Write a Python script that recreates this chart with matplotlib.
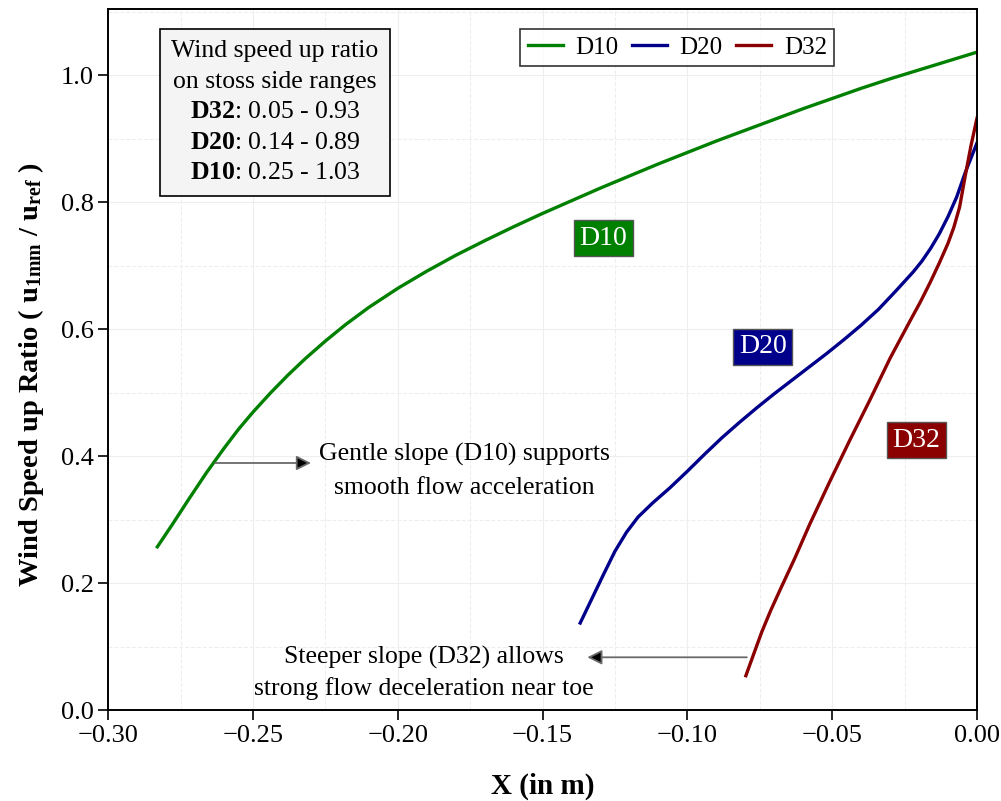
import matplotlib
matplotlib.use("Agg")
import matplotlib.pyplot as plt
from matplotlib.ticker import MultipleLocator

plt.rcParams['font.family'] = ['Liberation Serif', 'DejaVu Serif']
plt.rcParams['mathtext.fontset'] = 'custom'
plt.rcParams['mathtext.rm'] = 'Liberation Serif'
plt.rcParams['mathtext.it'] = 'Liberation Serif:italic'
plt.rcParams['mathtext.bf'] = 'Liberation Serif:bold'

# D10 (gentle slope)
x_d10 = [-0.283, -0.278, -0.272, -0.266, -0.260, -0.255, -0.250, -0.244, -0.238,
         -0.232, -0.225, -0.218, -0.210, -0.200, -0.190, -0.180, -0.170, -0.160,
         -0.150, -0.140, -0.130, -0.120, -0.110, -0.100, -0.090, -0.080, -0.070,
         -0.060, -0.050, -0.040, -0.030, -0.020, -0.010, 0.000]
y_d10 = [0.257, 0.291, 0.333, 0.374, 0.412, 0.442, 0.469, 0.499, 0.527,
         0.553, 0.581, 0.607, 0.634, 0.664, 0.691, 0.716, 0.739, 0.761,
         0.782, 0.802, 0.822, 0.841, 0.860, 0.878, 0.896, 0.913, 0.930,
         0.947, 0.963, 0.979, 0.994, 1.008, 1.022, 1.036]

# D20
x_d20 = [-0.137, -0.133, -0.129, -0.125, -0.121, -0.117, -0.112, -0.106, -0.100,
         -0.094, -0.088, -0.082, -0.076, -0.070, -0.064, -0.058, -0.052, -0.046,
         -0.040, -0.034, -0.028, -0.022, -0.019, -0.016, -0.013, -0.010, -0.007,
         -0.004, 0.000]
y_d20 = [0.137, 0.175, 0.213, 0.250, 0.280, 0.304, 0.326, 0.350, 0.376,
         0.403, 0.429, 0.453, 0.476, 0.498, 0.519, 0.540, 0.561, 0.583,
         0.606, 0.631, 0.660, 0.690, 0.707, 0.727, 0.750, 0.777, 0.808,
         0.847, 0.893]

# D32 (steep slope)
x_d32 = [-0.0798, -0.0771, -0.0743, -0.0712, -0.0677, -0.0629, -0.0577, -0.0508,
         -0.0439, -0.0370, -0.0300, -0.0232, -0.0195, -0.0162, -0.0130, -0.0100,
         -0.0080, -0.0060, -0.0041, -0.0021, 0.0]
y_d32 = [0.054, 0.088, 0.123, 0.157, 0.192, 0.239, 0.293, 0.360,
         0.425, 0.488, 0.554, 0.612, 0.643, 0.673, 0.704, 0.735,
         0.760, 0.792, 0.840, 0.888, 0.932]

fig = plt.figure(figsize=(10.01, 8.01), dpi=100)
ax = fig.add_axes([0.108, 0.1136, 0.868, 0.8752])

ax.plot(x_d10, y_d10, color='green', lw=2.4, label='D10')
ax.plot(x_d20, y_d20, color='darkblue', lw=2.4, label='D20')
ax.plot(x_d32, y_d32, color='darkred', lw=2.4, label='D32')

ax.set_xlim(-0.30, 0.0)
ax.set_ylim(0.0, 1.104)
ax.xaxis.set_major_locator(MultipleLocator(0.05))
ax.xaxis.set_minor_locator(MultipleLocator(0.025))
ax.yaxis.set_major_locator(MultipleLocator(0.2))
ax.yaxis.set_minor_locator(MultipleLocator(0.1))
ax.grid(which='major', color='#eeeeee', lw=0.8)
ax.grid(which='minor', color='#eeeeee', lw=0.8, ls='--')
ax.set_axisbelow(True)
ax.tick_params(which='major', labelsize=19, length=7, width=1.2, direction='out')
ax.tick_params(which='minor', length=0)
for s in ax.spines.values():
    s.set_linewidth(1.4)

ax.set_xlabel('X (in m)', fontsize=21, fontweight='bold', labelpad=19)
ax.set_ylabel(r'Wind Speed up Ratio ( $\mathbf{u}_{\mathbf{1mm}}$ / $\mathbf{u}_{\mathbf{ref}}$ )',
              fontsize=20.5, fontweight='bold')
ax.yaxis.set_label_coords(-0.071, 0.478)

leg = ax.legend(loc='upper center', bbox_to_anchor=(0.655, 0.9715), ncol=3, fontsize=18,
                frameon=True, fancybox=False, edgecolor='black', handlelength=1.4,
                columnspacing=0.55, handletextpad=0.5, borderpad=0.3, borderaxespad=0)
leg.get_frame().set_linewidth(1.2)

ax.text(-0.2424, 0.941,
        'Wind speed up ratio\non stoss side ranges\n'
        r'$\mathbf{D32}$: 0.05 - 0.93' '\n'
        r'$\mathbf{D20}$: 0.14 - 0.89' '\n'
        r'$\mathbf{D10}$: 0.25 - 1.03',
        ha='center', va='center', fontsize=18.5, linespacing=1.5,
        bbox=dict(boxstyle='square,pad=0.45', facecolor='#f4f4f4', edgecolor='black', lw=1.2))

box_kw = dict(boxstyle='square,pad=0.2', edgecolor='#555555', lw=1)
ax.text(-0.129, 0.743, 'D10', color='white', fontsize=20, ha='center', va='center',
        bbox=dict(facecolor='green', **box_kw))
ax.text(-0.074, 0.572, 'D20', color='white', fontsize=20, ha='center', va='center',
        bbox=dict(facecolor='darkblue', **box_kw))
ax.text(-0.021, 0.425, 'D32', color='white', fontsize=20, ha='center', va='center',
        bbox=dict(facecolor='darkred', **box_kw))

arrow_kw = dict(arrowstyle='-|>', color='dimgray', lw=1.3, mutation_scale=22)
ax.annotate('', xy=(-0.229, 0.389), xytext=(-0.264, 0.389),
            arrowprops=dict(fc='black', **arrow_kw))
ax.text(-0.177, 0.376, 'Gentle slope (D10) supports\nsmooth flow acceleration',
        ha='center', va='center', fontsize=18.5, linespacing=1.65)

ax.annotate('', xy=(-0.1355, 0.083), xytext=(-0.0785, 0.083),
            arrowprops=dict(fc='black', **arrow_kw))
ax.text(-0.191, 0.058, 'Steeper slope (D32) allows\nstrong flow deceleration near toe',
        ha='center', va='center', fontsize=18.5, linespacing=1.42)

fig.savefig('out.png', dpi=100)
